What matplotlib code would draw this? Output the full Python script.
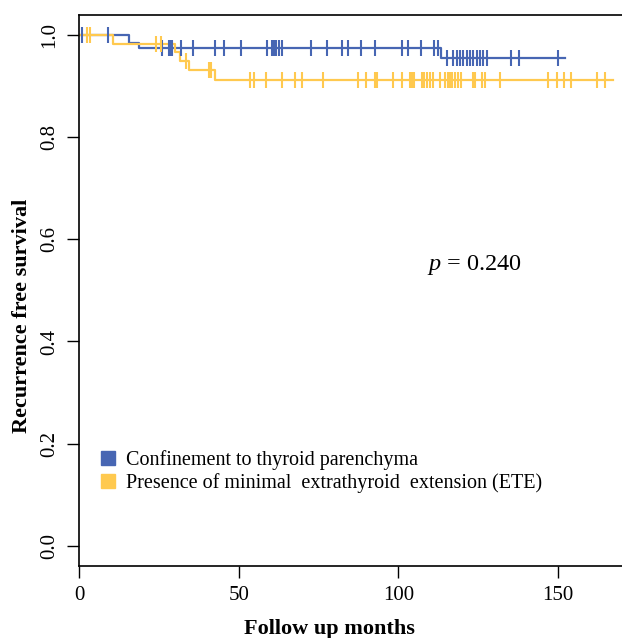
import numpy as np
import matplotlib
matplotlib.use('Agg')
import matplotlib.pyplot as plt
from matplotlib.lines import Line2D

#- Data (months, survival):

blue_times = [0, 15.8, 18.9, 113.3]
blue_surv = [1.0, 0.986, 0.976, 0.956]
blue_end = 152.2
blue_cens = [0.9, 9.0, 26.0, 28.1, 28.7, 29.1, 31.8, 35.7, 42.7, 45.4, 50.6,
             58.8, 60.5, 61.1, 61.7, 62.5, 63.4, 72.6, 77.6, 82.4, 84.3, 88.2,
             92.6, 101.2, 103.1, 107.1, 111.2, 112.3, 115.1, 117.2, 118.2,
             119.3, 120.3, 121.4, 122.4, 123.5, 124.5, 125.5, 126.6, 127.6,
             135.2, 137.8, 150.1]

yell_times = [0, 10.6, 30.0, 31.5, 34.5, 42.5]
yell_surv = [1.0, 0.984, 0.967, 0.950, 0.933, 0.912]
yell_end = 167.3
yell_cens = [2.6, 3.3, 24.0, 25.6, 33.5, 40.8, 41.4, 53.4, 54.7, 58.5, 63.4,
             67.6, 69.7, 76.4, 87.4, 90.0, 92.6, 93.2, 98.4, 101.0, 103.6,
             104.1, 104.9, 107.3, 108.1, 108.9, 109.9, 110.7, 113.0, 114.6,
             115.4, 116.2, 116.9, 117.8, 118.6, 119.6, 123.3, 124.0, 126.3,
             127.2, 131.8, 146.9, 149.5, 151.7, 154.0, 162.1, 164.7]

labels = ['Confinement to thyroid parenchyma',
          'Presence of minimal  extrathyroid  extension (ETE)']
p_text = '$p$ = 0.240'

blue = '#4766B3'
yellow = '#FFC94F'

plt.rcParams['font.family'] = 'Liberation Serif'
plt.rcParams['mathtext.fontset'] = 'custom'
plt.rcParams['mathtext.rm'] = 'Liberation Serif'
plt.rcParams['mathtext.it'] = 'Liberation Serif:italic'


def km_curve(ax, times, surv, end, cens, color):
    t = np.append(times, end)
    s = np.append(surv, surv[-1])
    ax.step(t, s, where='post', color=color, lw=1.6, zorder=2)
    idx = np.searchsorted(times, cens, side='right') - 1
    cy = np.array(surv)[idx]
    ax.plot(cens, cy, ls='none', marker='|', ms=12, mew=1.5,
            color=color, zorder=3)


fig = plt.figure(figsize=(6.22, 6.38), dpi=100)
ax = fig.add_axes([0.127, 0.1129, 0.873, 0.8636])

km_curve(ax, blue_times, blue_surv, blue_end, blue_cens, blue)
km_curve(ax, yell_times, yell_surv, yell_end, yell_cens, yellow)

ax.set_xlim(0, 170)
ax.set_ylim(-0.04, 1.04)
ax.set_xticks([0, 50, 100, 150])
ax.set_yticks([0.0, 0.2, 0.4, 0.6, 0.8, 1.0])
ax.set_yticklabels(['0.0', '0.2', '0.4', '0.6', '0.8', '1.0'],
                   rotation=90, va='center')
ax.tick_params(length=8.5, width=1, labelsize=15, pad=6)
ax.spines['right'].set_visible(False)
for s in ['left', 'bottom', 'top']:
    ax.spines[s].set_linewidth(1.2)

ax.set_xlabel('Follow up months', fontsize=16, fontweight='bold')
ax.xaxis.set_label_coords(0.462, -0.096)
ax.set_ylabel('Recurrence free survival', fontsize=16, fontweight='bold')
ax.yaxis.set_label_coords(-0.087, 0.454)

ax.text(109, 0.55, p_text, fontsize=17.5, ha='left', va='center')

handles = [Line2D([], [], ls='none', marker='s', ms=10, color=c)
           for c in [blue, yellow]]
ax.legend(handles, labels, loc='upper left', bbox_to_anchor=(0.02, 0.228),
          frameon=False, fontsize=14.5, handlelength=0.8, handletextpad=0.5,
          labelspacing=0.15, borderpad=0)

plt.savefig('out.png')
